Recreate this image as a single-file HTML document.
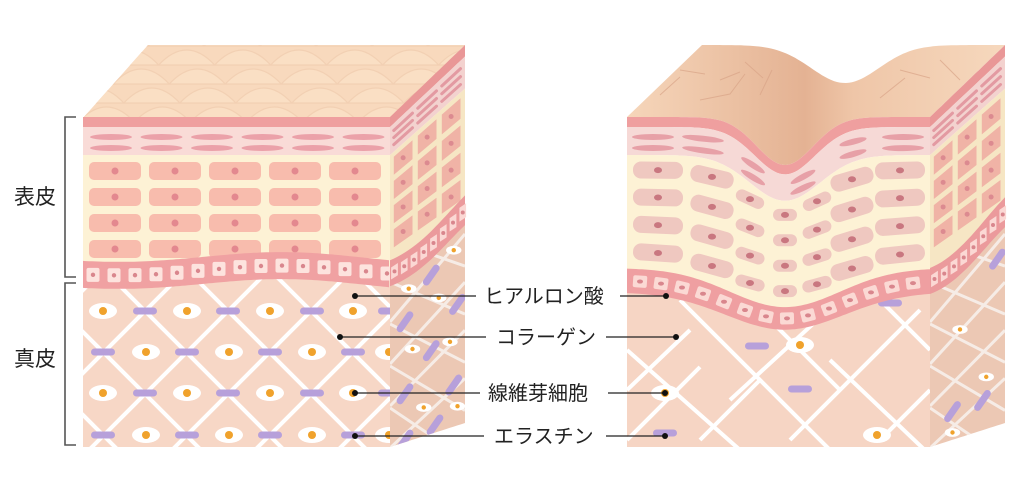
<!DOCTYPE html><html><head><meta charset="utf-8"><style>html,body{margin:0;background:#fff;overflow:hidden;width:1029px;height:483px}svg{display:block}text{font-family:"Liberation Sans","Noto Sans CJK JP",sans-serif;fill:#222}</style></head><body>
<svg id="s" width="1029" height="483" xmlns="http://www.w3.org/2000/svg">
<defs>
<linearGradient id="tg" gradientUnits="userSpaceOnUse" x1="627" y1="0" x2="1005" y2="0"><stop offset="0" stop-color="#f6d6ba"/><stop offset="0.47" stop-color="#e4b293"/><stop offset="0.6" stop-color="#efc6a8"/><stop offset="1" stop-color="#f6d8bd"/></linearGradient>
</defs>
<g id="L"></g><g id="R"></g>
<g id="ann" stroke="#222" stroke-width="1.3" fill="none">
<path d="M76,117H65V277H76M76,283H65V445H76" stroke="#555" stroke-width="1.6"/>
<line x1="355" y1="296" x2="476" y2="296"/><line x1="620" y1="296" x2="666" y2="296"/>
<line x1="340" y1="337" x2="486" y2="337"/><line x1="606" y1="337" x2="676" y2="337"/>
<line x1="355" y1="393" x2="480" y2="393"/><line x1="608" y1="393" x2="665" y2="393"/>
<line x1="355" y1="436" x2="484" y2="436"/><line x1="606" y1="436" x2="665" y2="436"/>
</g>
<g fill="#111"><circle cx="355" cy="296" r="3"/><circle cx="666" cy="296" r="3"/><circle cx="340" cy="337" r="3"/><circle cx="676" cy="337" r="3"/><circle cx="355" cy="393" r="3"/><circle cx="665" cy="393" r="3"/><circle cx="355" cy="436" r="3"/><circle cx="665" cy="436" r="3"/></g>
<text x="14" y="204" font-size="21">表皮</text>
<text x="14" y="366" font-size="21">真皮</text>
<text x="484" y="303" font-size="20">ヒアルロン酸</text>
<text x="496" y="344" font-size="20">コラーゲン</text>
<text x="488" y="400" font-size="20">線維芽細胞</text>
<text x="494" y="443" font-size="20">エラスチン</text>
</svg>
<script>
const NS='http://www.w3.org/2000/svg';
function E(p,t,a){const e=document.createElementNS(NS,t);for(const k in a)e.setAttribute(k,a[k]);p.appendChild(e);return e;}
const defs=document.querySelector('defs');
const L=document.getElementById('L'),R=document.getElementById('R');
function P(pts){return pts.map(q=>q[0].toFixed(1)+','+q[1].toFixed(1)).join(' ');}
function poly(p,pts,fill,extra){const a={points:P(pts),fill};Object.assign(a,extra||{});return E(p,'polygon',a);}
function S(x0,u,y){return [x0+75*u, y-u*(72-48*(y-117)/330)];}
let cid=0;
function clip(pts){const id='c'+(cid++);const c=E(defs,'clipPath',{id});E(c,'polygon',{points:P(pts)});return 'url(#'+id+')';}
function sideBand(x0,top,bot){const a=[],b=[];for(let u=0;u<=1.0001;u+=0.05){a.push(S(x0,u,top(u)));b.unshift(S(x0,u,bot(u)));}return a.concat(b);}
function sm(u){return u*u*(3-2*u);}
const C={band:'#ef9f9f',lp:'#f9dbd7',ell:'#eba1a9',cream:'#fdf2d5',cell:'#f8bcad',dot:'#e3888f',bas:'#f0a1a2',sq:'#fde3de',der:'#f7d7c6',eye:'#fff',or:'#f0a22c',pu:'#b7a0da'};
function eye(p,x,y,s){s=s||1;E(p,'ellipse',{cx:x,cy:y,rx:14*s,ry:8*s,fill:'#fff'});E(p,'circle',{cx:x,cy:y,r:4*s,fill:C.or});}
function pur(p,x,y,r){E(p,'rect',{x:x-12,y:y-3.5,width:24,height:7,rx:3.5,fill:C.pu,transform:r?`rotate(${r} ${x} ${y})`:''});}

function side(p,x0,bt){
 const bb=u=>bt(u)+26;
 poly(p,sideBand(x0,u=>117,u=>127),'#e99797');
 poly(p,sideBand(x0,u=>127,u=>155),'#f3d2cf');
 for(const yy of [134,141,148]){for(const [a,b] of [[0.05,0.3],[0.37,0.62],[0.69,0.94]]){const q1=S(x0,a,yy),q2=S(x0,b,yy);E(p,'line',{x1:q1[0],y1:q1[1],x2:q2[0],y2:q2[1],stroke:'#e39aa2','stroke-width':3,'stroke-linecap':'round'});}}
 poly(p,sideBand(x0,u=>155,u=>bt(u)+5),'#f6e6c4');
 for(const [a,b] of [[0.05,0.3],[0.37,0.62],[0.69,0.94]]){
  for(let k=0;k<7;k++){const y0=160+k*24,y1=y0+18;const um=(a+b)/2;if(y1>bt(b)+4)continue;
   poly(p,[S(x0,a,y0),S(x0,b,y0),S(x0,b,y1),S(x0,a,y1)],'#f0b3a6');
   const c=S(x0,um,(y0+y1)/2);E(p,'circle',{cx:c[0],cy:c[1],r:2.5,fill:'#dc8a90'});}}
 const dpts=sideBand(x0,u=>bb(u)-2,u=>447);
 poly(p,dpts,'#ecc8b4');
 const g=E(p,'g',{'clip-path':clip(dpts)});
 for(let n=-4;n<9;n++){
  let q1=S(x0,0,240+n*42),q2=S(x0,1,240+n*42+70);E(g,'line',{x1:q1[0],y1:q1[1],x2:q2[0],y2:q2[1],stroke:'#f6ece6','stroke-width':3});
  q1=S(x0,0,280+n*42);q2=S(x0,1,280+n*42-40);E(g,'line',{x1:q1[0],y1:q1[1],x2:q2[0],y2:q2[1],stroke:'#f6ece6','stroke-width':3});
 }
 return g;
}
function sideBasal(p,x0,bt){
 const pts=sideBand(x0,bt,u=>bt(u)+26);poly(p,pts,'#eb9a9c');
 for(let u=0.06;u<1;u+=0.13){const y=bt(u)+13;const a=S(x0,u-0.045,y-6),b=S(x0,u+0.045,y-6),c=S(x0,u+0.045,y+6),d=S(x0,u-0.045,y+6);
  poly(p,[a,b,c,d],'#fbd8d4');const m=S(x0,u,y);E(p,'circle',{cx:m[0],cy:m[1],r:2,fill:'#d9868d'});}
}

(function(){
 const p=L;
 poly(p,[[83,118],[390,118],[465,45],[148,45]],'#f8d9bd');
 const tg=E(p,'g',{'clip-path':clip([[83,118],[390,118],[465,45],[148,45]])});
 for(let j=4;j>=0;j--){const y=122-j*19;const off=(117-y)*(66/72);
  for(let i=-1;i<7;i++){const x=83+off+i*56-(j%2)*28;
   E(tg,'path',{d:`M${x},${y} Q${x+28},${y-30} ${x+56},${y} Z`,fill:'#fadfc4',stroke:'#f2d0b3','stroke-width':1.2});}}
 E(p,'rect',{x:83,y:270,width:307,height:177,fill:C.der});
 const dg=E(p,'g',{'clip-path':clip([[83,270],[390,270],[390,447],[83,447]])});
 for(let n=-8;n<10;n++){const c=311-145+n*83;E(dg,'line',{x1:60,y1:60+c,x2:420,y2:420+c,stroke:'#fff','stroke-width':4});
  const c2=311+145+n*83;E(dg,'line',{x1:60,y1:c2-60,x2:420,y2:c2-420,stroke:'#fff','stroke-width':4});}
 for(const y of [311,393]){for(const x of [103,187,270,353])eye(dg,x,y);for(const x of [145,228,312,390])pur(dg,x,y);}
 for(const y of [352,435]){for(const x of [146,229,312,389])eye(dg,x,y);for(const x of [103,187,270,353])pur(dg,x,y);}
 E(p,'rect',{x:83,y:117,width:307,height:10,fill:C.band});
 E(p,'rect',{x:83,y:127,width:307,height:28,fill:C.lp});
 for(const y of [137,148])for(let i=0;i<6;i++)E(p,'ellipse',{cx:111+i*50.5,cy:y,rx:21,ry:3,fill:C.ell});
 E(p,'rect',{x:83,y:155,width:307,height:120,fill:C.cream});
 for(const y of [162,188,214,240])for(let i=0;i<5;i++){const x=89+i*60;E(p,'rect',{x,y,width:52,height:18,rx:5,fill:C.cell});E(p,'circle',{cx:x+26,cy:y+9,r:3.5,fill:C.dot});}
 const bt=x=>259+4*Math.sin((x-83)/48+0.5)-3*Math.sin((x-83)/110);
 let a=[],b=[];for(let x=83;x<=390;x+=3){a.push([x,bt(x)]);b.unshift([x,bt(x)+27]);}
 poly(p,a.concat(b),C.bas);
 for(let x=93;x<390;x+=21){const y=bt(x)+13.5;E(p,'rect',{x:x-6.5,y:y-7,width:13,height:14,rx:2,fill:C.sq});E(p,'circle',{cx:x,cy:y,r:2.2,fill:'#d9868d'});}
 const b0=bt(390);
 const sbt=u=>b0-12*sm(u)+6*Math.sin(u*Math.PI);
 const sg=side(p,390,sbt);
 for(const [u,y] of [[0.25,300],[0.65,325],[0.3,360],[0.8,370],[0.45,420],[0.9,430],[0.85,290]]){const m=S(390,u,y);eye(sg,m[0],m[1],0.55);}
 for(const [u,y] of [[0.2,330],[0.55,300],[0.85,270],[0.55,370],[0.2,400],[0.85,410],[0.6,440],[0.2,445],[0.9,340]]){const m=S(390,u,y);pur(sg,m[0],m[1],-55);}
 sideBasal(p,390,sbt);
})();

(function(){
 const p=R;
 const A=y=>48-10*(y-117)/170, W=y=>40+(y-117)*0.25;
 const D=(x,y)=>A(y)*Math.exp(-Math.pow((x-785)/W(y),2));
 const dD=(x,y)=>D(x,y)*(-2*(x-785)/(W(y)*W(y)));
 const band=(y1,y2,fill)=>{let a=[],b=[];for(let x=627;x<=930.1;x+=3){a.push([x,y1+D(x,y1)]);b.unshift([x,y2+D(x,y2)]);}return poly(p,a.concat(b),fill);};
 let top=[];for(let x=627;x<=930.1;x+=3)top.push([x,117+D(x,117)]);
 top.push([1005,45]);for(let x=1005;x>=700;x-=3)top.push([x,45+38*Math.exp(-Math.pow((x-845)/48,2))]);
 poly(p,top,'url(#tg)');
 const tg=E(p,'g',{'clip-path':clip(top),stroke:'#d9a488','stroke-width':1,fill:'none',opacity:0.7});
 for(const d of ['M660,95 l20,-18','M700,100 l30,-6 l15,-20','M680,70 l25,4','M745,62 l18,16','M760,95 l12,-25','M880,98 l25,-20','M900,70 l30,8','M940,60 l20,20','M870,70 l10,-15','M960,95 l22,-18','M720,80 l20,-8'])E(tg,'path',{d});
 E(p,'rect',{x:627,y:275,width:303,height:172,fill:'#f6d5c4'});
 const dg=E(p,'g',{stroke:'#fff','stroke-width':4,'clip-path':clip([[627,275],[930,275],[930,447],[627,447]])});
 for(const [x1,y1,x2,y2] of [[627,350,740,450],[627,440,700,367],[680,300,830,450],[730,400,850,290],[790,440,920,310],[830,360,930,455],[860,280,930,350],[760,310,840,390],[627,390,690,330],[700,440,760,380],[880,440,930,390]])E(dg,'line',{x1,y1,x2,y2});
 eye(p,800,345);eye(p,665,393);eye(p,877,435);
 pur(p,757,346);pur(p,800,389);pur(p,890,303);pur(p,665,433);
 band(117,127,C.band);band(127,155,'#f6d9d6');
 for(const y of [137,148])for(let i=0;i<6;i++){const cx=653+i*50;const w=(Math.abs(cx-785)<80)?14:21;const cy=y+D(cx,y);const r=Math.atan(dD(cx,y))*180/Math.PI*0.8;E(p,'ellipse',{cx,cy,rx:w,ry:3,fill:'#e7a0a7',transform:`rotate(${r} ${cx} ${cy})`});}
 band(155,282,C.cream);
 const cols=[[658,50],[712,44],[750,30],[785,24],[817,30],[852,44],[900,50]];
 for(const y of [170,197,224,251])for(const [cx,w] of cols){const cy=y+D(cx,y);const h=Math.abs(cx-785)<40?12:17;const r=Math.atan(dD(cx,y))*180/Math.PI*0.7;
  E(p,'rect',{x:cx-w/2,y:cy-h/2,width:w,height:h,rx:Math.min(8,h/2),fill:'#efc8c0',transform:`rotate(${r} ${cx} ${cy})`});E(p,'ellipse',{cx,cy,rx:4,ry:3,fill:'#c97780'});}
 band(268,292,'#ef9fa1');
 for(let x=640;x<930;x+=21){const y=280+D(x,280);const r=Math.atan(dD(x,280))*180/Math.PI;E(p,'rect',{x:x-7,y:y-6,width:14,height:12,rx:2,fill:'#fbd9d4',transform:`rotate(${r} ${x} ${y})`});E(p,'ellipse',{cx:x,cy:y,rx:3,ry:2,fill:'#d9868d'});}
 const sbt=u=>268-18*sm(u)+6*Math.sin(u*Math.PI);
 const sg=side(p,930,sbt);
 for(const [u,y] of [[0.4,345],[0.75,400],[0.3,440]]){const m=S(930,u,y);eye(sg,m[0],m[1],0.55);}
 for(const [u,y] of [[0.9,300],[0.7,420],[0.3,420]]){const m=S(930,u,y);pur(sg,m[0],m[1],-55);}
 sideBasal(p,930,sbt);
})();
</script>
</body></html>
